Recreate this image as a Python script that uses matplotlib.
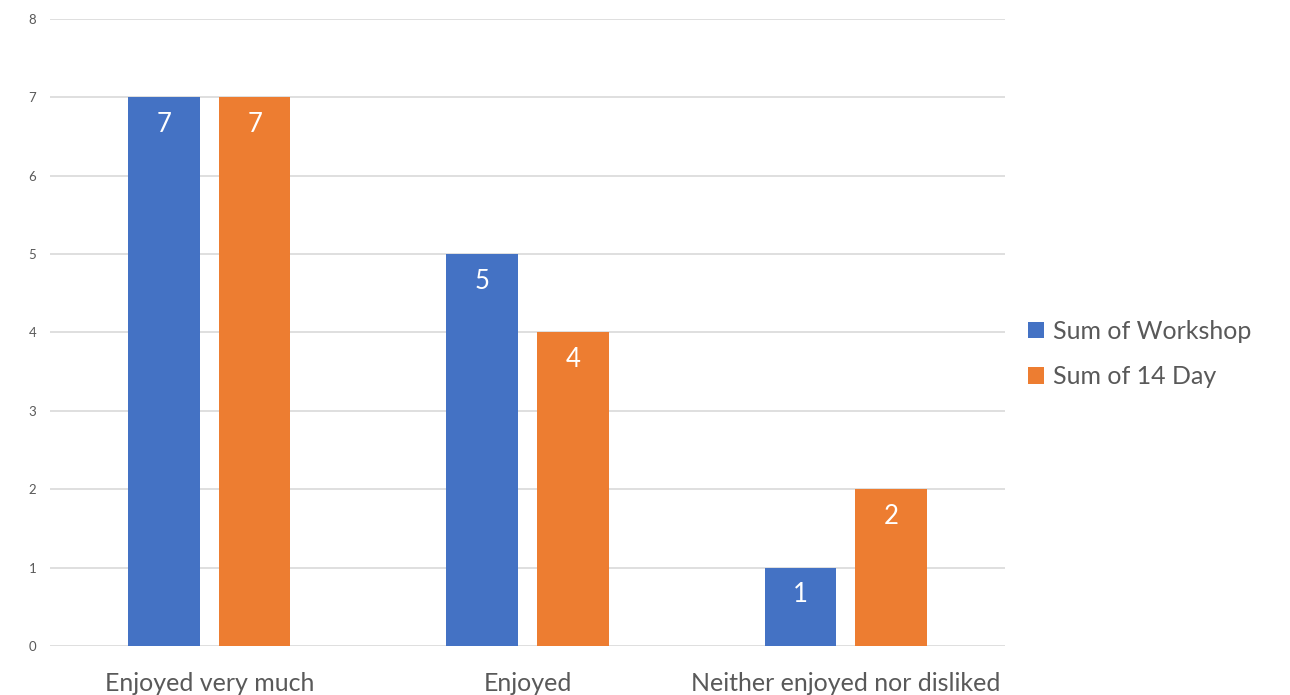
import matplotlib.pyplot as plt
import numpy as np

# Survey answers and counts per series
categories = ['Enjoyed very much', 'Enjoyed', 'Neither enjoyed nor disliked']
workshop = [7, 5, 1]
day14 = [7, 4, 2]
series_names = ['Sum of Workshop', 'Sum of 14 Day']

blue = '#4472C4'
orange = '#ED7D31'
grey_text = '#595959'

plt.rcParams['font.family'] = ['Lato', 'DejaVu Sans']

fig = plt.figure(figsize=(12.9, 6.95), dpi=100)
ax = fig.add_axes([0.0388, 0.0705, 0.7403, 0.9022])

x = np.arange(len(categories))
width = 0.225
gap = 0.06

bars1 = ax.bar(x - (width + gap) / 2, workshop, width, color=blue, label=series_names[0], zorder=3)
bars2 = ax.bar(x + (width + gap) / 2, day14, width, color=orange, label=series_names[1], zorder=3)

# Value labels inside the top of each bar
for bars in (bars1, bars2):
    for b in bars:
        h = b.get_height()
        ax.annotate(f'{h:g}', (b.get_x() + b.get_width() / 2, h),
                    xytext=(0, -27), textcoords='offset pixels',
                    ha='center', va='center', color='white', fontsize=18.5, zorder=4)

ax.set_xlim(-0.5, 2.5)
ax.set_ylim(0, 8)
ax.set_yticks(range(0, 9))
ax.set_xticks(x)
ax.set_xticklabels(categories, fontsize=18, color=grey_text)
ax.tick_params(axis='x', length=0, pad=19)
ax.tick_params(axis='y', length=0, pad=10, labelsize=9.5, labelcolor=grey_text)

ax.grid(axis='y', color='#D9D9D9', linewidth=1.2, zorder=0)
for s in ax.spines.values():
    s.set_visible(False)

ax.legend(loc='center left', bbox_to_anchor=(1028 / 1290, 1 - 354 / 695),
          bbox_transform=fig.transFigure, frameon=False,
          fontsize=18, labelcolor=grey_text, handlelength=0.65, handleheight=0.65,
          handletextpad=0.35, labelspacing=0.9, borderpad=0, borderaxespad=0)

fig.savefig('out.png', dpi=100)
